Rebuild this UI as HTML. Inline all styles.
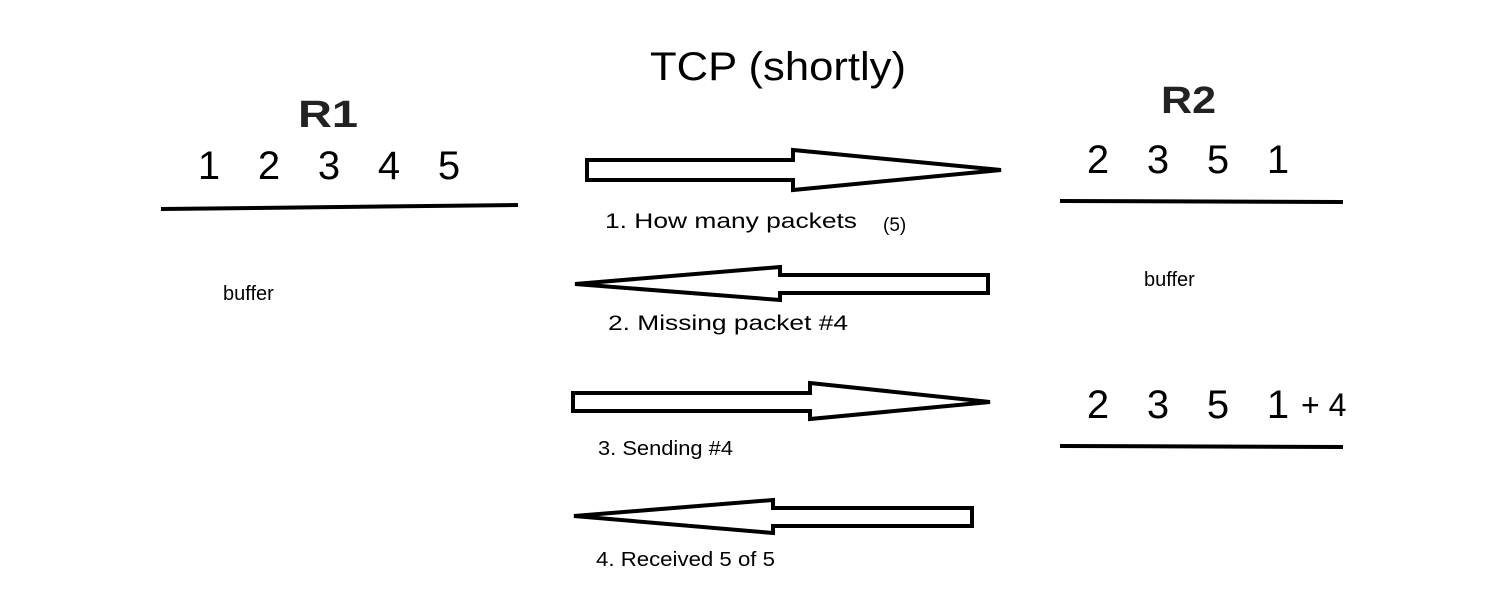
<!DOCTYPE html>
<html><head><meta charset="utf-8"><style>
html,body{margin:0;padding:0;background:#fff;}
svg{display:block;font-family:"Liberation Sans","DejaVu Sans",sans-serif;}
</style></head><body>
<svg width="1506" height="610" viewBox="0 0 1506 610">
<rect width="1506" height="610" fill="#fff"/>
<text x="650" y="80" font-size="40" textLength="256" lengthAdjust="spacingAndGlyphs" fill="#000">TCP (shortly)</text>
<text x="298" y="127" font-size="38" font-weight="bold" textLength="60" lengthAdjust="spacingAndGlyphs" fill="#222">R1</text>
<text x="1161" y="113" font-size="38" font-weight="bold" textLength="55" lengthAdjust="spacingAndGlyphs" fill="#222">R2</text>
<g font-size="40" fill="#000" text-anchor="middle">
<text x="209" y="179">1</text><text x="269" y="179">2</text><text x="329" y="179">3</text><text x="389" y="179">4</text><text x="449" y="179">5</text>
</g>
<path d="M161 209 L518 205" stroke="#000" stroke-width="4"/>
<text x="223" y="300" font-size="20" fill="#000">buffer</text>
<g font-size="40" fill="#000" text-anchor="middle">
<text x="1098" y="173">2</text><text x="1158" y="173">3</text><text x="1218" y="173">5</text><text x="1278" y="173">1</text>
</g>
<path d="M1060 201 L1343 202" stroke="#000" stroke-width="4"/>
<text x="1144" y="286" font-size="20" fill="#000">buffer</text>
<g font-size="40" fill="#000" text-anchor="middle">
<text x="1098" y="418">2</text><text x="1158" y="418">3</text><text x="1218" y="418">5</text><text x="1278" y="418">1</text>
</g>
<text x="1301" y="416" font-size="32" fill="#000">+ 4</text>
<path d="M1060 446 L1343 447" stroke="#000" stroke-width="4"/>
<g fill="#fff" stroke="#000" stroke-width="4" stroke-linejoin="miter">
<path d="M587 160 L793 160 L793 150 L1001 170 L793 190 L793 180 L587 180 Z"/>
<path d="M988 275 L780 275 L780 267 L575 284 L780 300 L780 293 L988 293 Z"/>
<path d="M573 393 L810 393 L810 383 L990 402 L810 419 L810 411 L573 411 Z"/>
<path d="M972 508 L773 508 L773 500 L574 516 L773 533 L773 526 L972 526 Z"/>
</g>
<text x="605" y="228" font-size="21" textLength="252" lengthAdjust="spacingAndGlyphs" fill="#000">1. How many packets</text>
<text x="883" y="231" font-size="19" fill="#000">(5)</text>
<text x="608" y="330" font-size="21" textLength="240" lengthAdjust="spacingAndGlyphs" fill="#000">2. Missing packet #4</text>
<text x="598" y="455" font-size="20" textLength="135" lengthAdjust="spacingAndGlyphs" fill="#000">3. Sending #4</text>
<text x="596" y="566" font-size="20" textLength="179" lengthAdjust="spacingAndGlyphs" fill="#000">4. Received 5 of 5</text>
</svg>
</body></html>
